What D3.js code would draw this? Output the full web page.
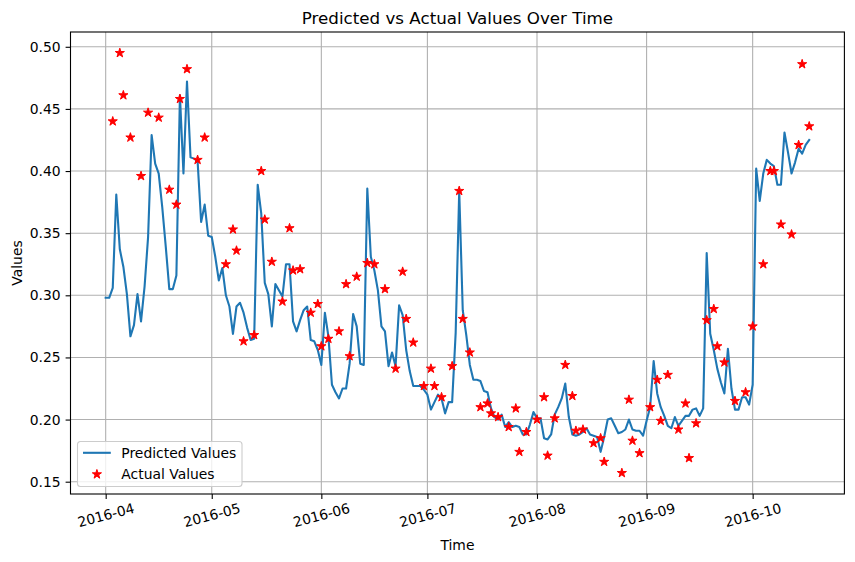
<!DOCTYPE html>
<html>
<head>
<meta charset="utf-8">
<script src="https://cdn.jsdelivr.net/npm/d3@7"></script>
<style>
    body { margin: 0; background: #ffffff; }
    svg { display: block; font-family: "DejaVu Sans", sans-serif; }
</style>
</head>
<body>
<svg id="chart"></svg>
<script>
// Daily predictions, first day 2016-04-01
const startDate = "2016-04-01";
const predictedValues = [
    0.298, 0.298, 0.306, 0.381, 0.337, 0.323, 0.301, 0.267, 0.276, 0.301,
    0.279, 0.307, 0.347, 0.429, 0.406, 0.398, 0.371, 0.339, 0.305, 0.305,
    0.316, 0.461, 0.398, 0.472, 0.411, 0.410, 0.408, 0.359, 0.373, 0.348,
    0.347, 0.331, 0.312, 0.322, 0.300, 0.291, 0.269, 0.291, 0.294, 0.286,
    0.274, 0.264, 0.265, 0.389, 0.366, 0.310, 0.301, 0.275, 0.309, 0.304,
    0.299, 0.325, 0.325, 0.279, 0.271, 0.280, 0.288, 0.291, 0.264, 0.263,
    0.256, 0.244, 0.286, 0.267, 0.228, 0.222, 0.217, 0.225, 0.225, 0.245,
    0.285, 0.275, 0.245, 0.244, 0.386, 0.331, 0.320, 0.304, 0.275, 0.271,
    0.243, 0.254, 0.243, 0.292, 0.284, 0.256, 0.239, 0.227, 0.227, 0.227,
    0.224, 0.220, 0.208, 0.214, 0.220, 0.217, 0.205, 0.214, 0.214, 0.270,
    0.384, 0.288, 0.268, 0.244, 0.232, 0.232, 0.231, 0.223, 0.222, 0.209,
    0.202, 0.200, 0.204, 0.194, 0.198, 0.194, 0.195, 0.194, 0.188, 0.188,
    0.196, 0.206, 0.201, 0.201, 0.185, 0.184, 0.188, 0.204, 0.210, 0.217,
    0.229, 0.202, 0.188, 0.187, 0.188, 0.190, 0.193, 0.188, 0.187, 0.186,
    0.174, 0.186, 0.200, 0.201, 0.195, 0.189, 0.190, 0.192, 0.200, 0.192,
    0.191, 0.191, 0.187, 0.199, 0.210, 0.247, 0.221, 0.210, 0.203, 0.195,
    0.193, 0.202, 0.195, 0.199, 0.203, 0.203, 0.208, 0.209, 0.203, 0.209,
    0.334, 0.269, 0.256, 0.241, 0.230, 0.221, 0.257, 0.225, 0.208, 0.208,
    0.218, 0.218, 0.212, 0.228, 0.402, 0.376, 0.398, 0.409, 0.406, 0.404,
    0.389, 0.389, 0.431, 0.415, 0.398, 0.407, 0.418, 0.414, 0.421, 0.425
];

// Actual values: day index (from startDate) and value
const actualDays = [
    2, 4, 5, 7, 10, 12, 15, 18, 20, 21, 23, 26, 28, 34, 36, 37, 39, 42, 44, 45, 47,
    50, 52, 53, 55, 58, 60, 61, 63, 66, 68, 69, 71, 74, 76, 79, 82, 84, 85, 87, 90, 92, 93, 95, 98, 100,
    101, 103, 106, 108, 109, 111, 114, 116, 117, 119, 122, 124, 125, 127, 130, 132, 133, 135, 138, 140, 141, 146, 148, 149, 151,
    154, 156, 157, 159, 162, 164, 165, 167, 170, 172, 173, 175, 178, 181, 183, 186, 188, 189, 191, 194, 196, 197, 199
];
const actualValues = [
    0.440, 0.495, 0.461, 0.427, 0.396, 0.447, 0.443, 0.385, 0.373, 0.458, 0.482, 0.409, 0.427, 0.325, 0.353, 0.336, 0.263, 0.268, 0.400, 0.361, 0.327,
    0.295, 0.354, 0.320, 0.321, 0.286, 0.293, 0.259, 0.265, 0.271, 0.309, 0.251, 0.315, 0.326, 0.325, 0.305, 0.241, 0.319, 0.281, 0.262, 0.227, 0.241, 0.227, 0.218, 0.243, 0.384,
    0.281, 0.254, 0.210, 0.213, 0.205, 0.202, 0.194, 0.209, 0.174, 0.190, 0.200, 0.218, 0.171, 0.201, 0.244, 0.219, 0.191, 0.192, 0.181, 0.185, 0.166, 0.157, 0.216, 0.183, 0.173,
    0.210, 0.232, 0.199, 0.236, 0.192, 0.213, 0.169, 0.197, 0.280, 0.289, 0.259, 0.246, 0.215, 0.222, 0.275, 0.325, 0.400, 0.400, 0.357, 0.349, 0.421, 0.486, 0.436
];

const yTicks = [0.15, 0.20, 0.25, 0.30, 0.35, 0.40, 0.45, 0.50];

document.addEventListener("DOMContentLoaded", function () {
    const width = 855;
    const height = 562;
    const margin = { top: 32, right: 10.6, bottom: 68, left: 70.5 };

    const svg = d3.select("#chart")
        .attr("width", width)
        .attr("height", height);

    const start = d3.timeParse("%Y-%m-%d")(startDate);
    const predicted = predictedValues.map((v, i) => ({ date: d3.timeDay.offset(start, i), value: v }));
    const actual = actualDays.map((d, i) => ({ date: d3.timeDay.offset(start, d), value: actualValues[i] }));

    // matplotlib style 5% margins
    const xExt = d3.extent(predicted, d => d.date);
    const xPad = (xExt[1] - xExt[0]) * 0.05;
    const allVals = predictedValues.concat(actualValues);
    const yMin = d3.min(allVals), yMax = d3.max(allVals);
    const yPad = (yMax - yMin) * 0.05;

    const x = d3.scaleTime()
        .domain([new Date(+xExt[0] - xPad), new Date(+xExt[1] + xPad)])
        .range([margin.left, width - margin.right]);

    const y = d3.scaleLinear()
        .domain([yMin - yPad, yMax + yPad])
        .range([height - margin.bottom, margin.top]);

    const monthTicks = x.ticks(d3.timeMonth.every(1));

    // Grid
    const grid = svg.append("g");
    grid.selectAll(".vgrid")
        .data(monthTicks)
        .enter().append("line")
        .attr("x1", d => x(d)).attr("x2", d => x(d))
        .attr("y1", margin.top).attr("y2", height - margin.bottom)
        .attr("stroke", "#b0b0b0").attr("stroke-width", 1.1);
    grid.selectAll(".hgrid")
        .data(yTicks)
        .enter().append("line")
        .attr("x1", margin.left).attr("x2", width - margin.right)
        .attr("y1", d => y(d)).attr("y2", d => y(d))
        .attr("stroke", "#b0b0b0").attr("stroke-width", 1.1);

    // Predicted line
    const line = d3.line()
        .x(d => x(d.date))
        .y(d => y(d.value));

    svg.append("path")
        .datum(predicted)
        .attr("d", line)
        .attr("fill", "none")
        .attr("stroke", "#1f77b4")
        .attr("stroke-width", 2.1)
        .attr("stroke-linejoin", "round")
        .attr("stroke-linecap", "square");

    // Actual values as stars
    const star = d3.symbol().type(d3.symbolStar).size(26);
    svg.append("g").selectAll("path")
        .data(actual)
        .enter().append("path")
        .attr("d", star)
        .attr("transform", d => `translate(${x(d.date)},${y(d.value)})`)
        .attr("fill", "red")
        .attr("stroke", "red")
        .attr("stroke-width", 1)
        .attr("stroke-linejoin", "miter");

    // Axes
    const xAxis = svg.append("g")
        .attr("transform", `translate(0,${height - margin.bottom})`)
        .call(d3.axisBottom(x).tickValues(monthTicks).tickFormat(d3.timeFormat("%Y-%m")).tickSizeOuter(0).tickSize(4.9).tickPadding(4.9));
    xAxis.select(".domain").remove();
    xAxis.selectAll(".tick line").attr("stroke", "#000").attr("stroke-width", 1.1);
    xAxis.selectAll(".tick text")
        .attr("font-size", "13.9px")
        .attr("font-family", "DejaVu Sans")
        .attr("fill", "#000")
        .attr("text-anchor", "middle")
        .attr("dy", null)
        .attr("y", 0)
        .attr("transform", "translate(0,22) rotate(-15)")
        .attr("dominant-baseline", "middle");

    const yAxis = svg.append("g")
        .attr("transform", `translate(${margin.left},0)`)
        .call(d3.axisLeft(y).tickValues(yTicks).tickFormat(d3.format(".2f")).tickSizeOuter(0).tickSize(4.9).tickPadding(4.9));
    yAxis.select(".domain").remove();
    yAxis.selectAll(".tick line").attr("stroke", "#000").attr("stroke-width", 1.1);
    yAxis.selectAll(".tick text")
        .attr("font-size", "13.9px")
        .attr("font-family", "DejaVu Sans")
        .attr("fill", "#000");

    // Frame
    svg.append("rect")
        .attr("x", margin.left).attr("y", margin.top)
        .attr("width", width - margin.left - margin.right)
        .attr("height", height - margin.top - margin.bottom)
        .attr("fill", "none")
        .attr("stroke", "#000")
        .attr("stroke-width", 1.1);

    // Title and labels
    const cx = (margin.left + width - margin.right) / 2;
    svg.append("text")
        .attr("x", cx).attr("y", 23.5)
        .attr("text-anchor", "middle")
        .attr("font-size", "16.7px")
        .text("Predicted vs Actual Values Over Time");

    svg.append("text")
        .attr("x", cx).attr("y", 550)
        .attr("text-anchor", "middle")
        .attr("font-size", "13.9px")
        .text("Time");

    svg.append("text")
        .attr("transform", `translate(22,${(margin.top + height - margin.bottom) / 2}) rotate(-90)`)
        .attr("text-anchor", "middle")
        .attr("font-size", "13.9px")
        .text("Values");

    // Legend
    const legend = svg.append("g").attr("transform", "translate(77.5,441.5)");
    legend.append("rect")
        .attr("width", 164.5).attr("height", 45)
        .attr("rx", 3).attr("ry", 3)
        .attr("fill", "#fff").attr("fill-opacity", 0.8)
        .attr("stroke", "#cccccc").attr("stroke-width", 1.1);
    legend.append("line")
        .attr("x1", 5.5).attr("x2", 33.3)
        .attr("y1", 11.3).attr("y2", 11.3)
        .attr("stroke", "#1f77b4").attr("stroke-width", 2.1);
    legend.append("path")
        .attr("d", star)
        .attr("transform", "translate(19.4,32.8)")
        .attr("fill", "red").attr("stroke", "red").attr("stroke-width", 1);
    legend.append("text")
        .attr("x", 43.8).attr("y", 11.3)
        .attr("dominant-baseline", "central")
        .attr("font-size", "13.9px")
        .text("Predicted Values");
    legend.append("text")
        .attr("x", 43.8).attr("y", 32.8)
        .attr("dominant-baseline", "central")
        .attr("font-size", "13.9px")
        .text("Actual Values");
});
</script>
</body>
</html>
